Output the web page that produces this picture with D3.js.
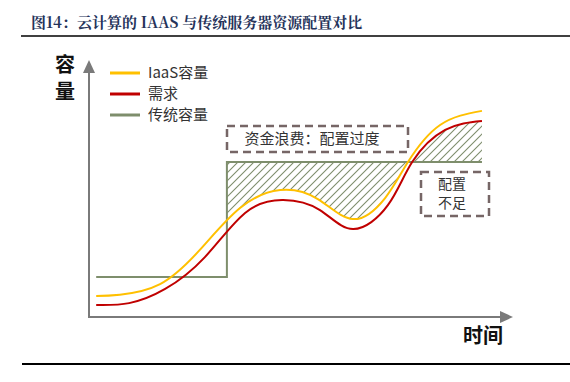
<!DOCTYPE html>
<html>
<head>
<meta charset="utf-8">
<script src="https://cdn.jsdelivr.net/npm/d3@7"></script>
<style>
  body { margin: 0; background: #fff; }
  svg { display: block; font-family: "Noto Sans CJK SC", "Noto Sans", sans-serif; }
</style>
</head>
<body>
<div id="chart"></div>
<script>
    // Дані (умовні одиниці 0..100)
    const titleText = "图14：云计算的 IAAS 与传统服务器资源配置对比";
    const seriesNames = ["IaaS容量", "需求", "传统容量"];
    const seriesColors = ["#ffc000", "#c00000", "#7e8e6c"];

    const iaas = [
        [1.7, 8.2], [7.3, 8.7], [16.8, 12.8], [26.2, 26.1], [35.7, 42.4], [45.2, 49.4],
        [54.1, 45.9], [62.4, 38.1], [70.0, 46.3], [75.4, 60.3], [83.0, 74.7], [92.9, 80.2]
    ];
    const demand = [
        [1.7, 4.7], [9.5, 5.4], [18.0, 10.9], [27.4, 23.3], [36.9, 40.5], [45.9, 45.5],
        [54.6, 41.6], [62.4, 34.2], [70.7, 43.6], [76.4, 60.3], [84.2, 72.8], [92.9, 76.3]
    ];
    const traditional = [[1.7, 15.6], [32.6, 60.3], [92.9, 60.3]];

    const wasteLabel = "资金浪费：配置过度";
    const shortLabel = ["配置", "不足"];
    const yLabel = ["容", "量"];
    const xLabel = "时间";

    // Розміри
    const W = 570, H = 382;
    const axisColor = "#7a7a7a";
    const dashColor = "#766666";

    const svg = d3.select("#chart").append("svg")
        .attr("width", W).attr("height", H);

    // Шкали
    const x = d3.scaleLinear().domain([0, 100]).range([89, 512]);
    const y = d3.scaleLinear().domain([0, 100]).range([317, 60]);

    // Заголовок
    svg.append("text")
        .attr("x", 31).attr("y", 28)
        .attr("font-family", "'Noto Serif CJK SC', 'Noto Sans CJK SC', serif")
        .attr("font-weight", "bold")
        .attr("font-size", 15)
        .attr("fill", "#25335a")
        .text(titleText);
    svg.append("line").attr("x1", 21).attr("x2", W).attr("y1", 36).attr("y2", 36)
        .attr("stroke", "#000").attr("stroke-width", 1.5);
    svg.append("line").attr("x1", 22).attr("x2", W).attr("y1", 364).attr("y2", 364)
        .attr("stroke", "#000").attr("stroke-width", 2);

    // Штрихування
    const defs = svg.append("defs");
    defs.append("pattern")
        .attr("id", "hatch")
        .attr("patternUnits", "userSpaceOnUse")
        .attr("width", 8).attr("height", 8)
        .append("path")
        .attr("d", "M-2,2 L2,-2 M0,8 L8,0 M6,10 L10,6")
        .attr("stroke", seriesColors[2]).attr("stroke-width", 1.1);

    const stepX = traditional[1][0], endX = traditional[2][0], level = traditional[1][1];

    const curve = d3.curveNatural;
    const aboveIaas = d3.area().x(d => x(d[0])).y0(d => y(d[1])).y1(y(100)).curve(curve);
    const belowDemand = d3.area().x(d => x(d[0])).y0(y(0)).y1(d => y(d[1])).curve(curve);

    defs.append("clipPath").attr("id", "c-left-rect").append("rect")
        .attr("x", x(stepX)).attr("y", y(level))
        .attr("width", x(endX) - x(stepX)).attr("height", y(0) - y(level));
    defs.append("clipPath").attr("id", "c-left-curve").append("path").attr("d", aboveIaas(iaas));
    defs.append("clipPath").attr("id", "c-right-rect").append("rect")
        .attr("x", x(stepX)).attr("y", y(100))
        .attr("width", x(endX) - x(stepX)).attr("height", y(level) - y(100));
    defs.append("clipPath").attr("id", "c-right-curve").append("path").attr("d", belowDemand(demand));

    svg.append("g").attr("clip-path", "url(#c-left-rect)")
        .append("g").attr("clip-path", "url(#c-left-curve)")
        .append("rect").attr("width", W).attr("height", H).attr("fill", "url(#hatch)");
    svg.append("g").attr("clip-path", "url(#c-right-rect)")
        .append("g").attr("clip-path", "url(#c-right-curve)")
        .append("rect").attr("width", W).attr("height", H).attr("fill", "url(#hatch)");

    // Осі зі стрілками
    svg.append("line").attr("x1", x(0)).attr("x2", x(0)).attr("y1", y(0) + 1).attr("y2", 70)
        .attr("stroke", axisColor).attr("stroke-width", 2);
    svg.append("path").attr("d", `M${x(0)},60 L${x(0) - 6},73 L${x(0) + 6},73 Z`).attr("fill", axisColor);
    svg.append("line").attr("x1", x(0) - 1).attr("x2", 502).attr("y1", y(0)).attr("y2", y(0))
        .attr("stroke", axisColor).attr("stroke-width", 2);
    svg.append("path").attr("d", `M513,${y(0)} L500,${y(0) - 6} L500,${y(0) + 6} Z`).attr("fill", axisColor);

    svg.selectAll(".ylab").data(yLabel).enter().append("text")
        .attr("x", 65).attr("y", (d, i) => 72 + i * 27)
        .attr("text-anchor", "middle")
        .attr("font-size", 20).attr("font-weight", "bold").attr("fill", "#111")
        .text(d => d);
    svg.append("text").attr("x", 483).attr("y", 343)
        .attr("text-anchor", "middle")
        .attr("font-size", 20).attr("font-weight", "bold").attr("fill", "#111")
        .text(xLabel);

    // Лінії
    const line = d3.line().x(d => x(d[0])).y(d => y(d[1])).curve(curve);
    const stepLine = d3.line().x(d => x(d[0])).y(d => y(d[1])).curve(d3.curveStepAfter);

    svg.append("path").attr("d", stepLine(traditional))
        .attr("fill", "none").attr("stroke", seriesColors[2]).attr("stroke-width", 2);
    svg.append("path").attr("d", line(demand))
        .attr("fill", "none").attr("stroke", seriesColors[1]).attr("stroke-width", 2);
    svg.append("path").attr("d", line(iaas))
        .attr("fill", "none").attr("stroke", seriesColors[0]).attr("stroke-width", 2);

    // Пунктирні рамки
    svg.append("rect").attr("x", 227).attr("y", 126).attr("width", 181).attr("height", 26)
        .attr("fill", "none").attr("stroke", dashColor).attr("stroke-width", 2.5)
        .attr("stroke-dasharray", "8,5");
    svg.append("text").attr("x", 312).attr("y", 144)
        .attr("text-anchor", "middle").attr("font-size", 15).attr("fill", "#333")
        .text(wasteLabel);

    svg.append("rect").attr("x", 421).attr("y", 172).attr("width", 68).attr("height", 44)
        .attr("fill", "none").attr("stroke", dashColor).attr("stroke-width", 2.5)
        .attr("stroke-dasharray", "8,5");
    svg.selectAll(".short").data(shortLabel).enter().append("text")
        .attr("x", 452).attr("y", (d, i) => 189 + i * 19)
        .attr("text-anchor", "middle").attr("font-size", 14).attr("fill", "#333")
        .text(d => d);

    // Легенда
    const legend = svg.selectAll(".legend").data(seriesNames).enter().append("g")
        .attr("transform", (d, i) => `translate(110,${73 + i * 21})`);
    legend.append("line").attr("x1", 0).attr("x2", 30)
        .attr("stroke", (d, i) => seriesColors[i]).attr("stroke-width", 3);
    legend.append("text").attr("x", 38).attr("y", 5)
        .attr("font-size", 15).attr("fill", "#333")
        .text(d => d);
</script>
</body>
</html>
